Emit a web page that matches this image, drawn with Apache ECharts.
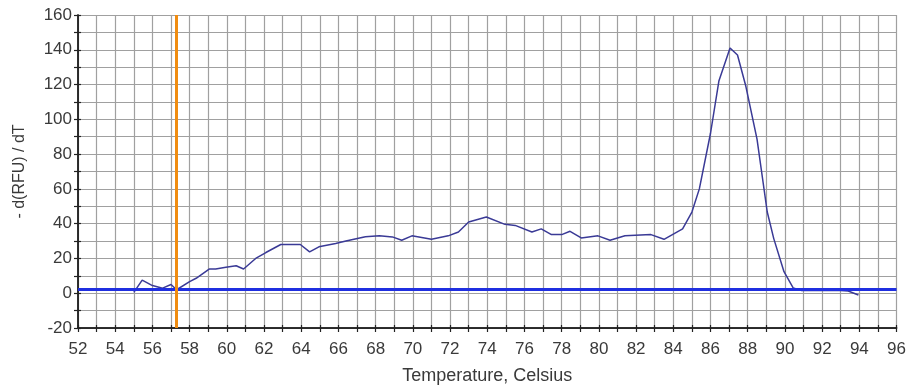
<!DOCTYPE html>
<html>
<head>
<meta charset="utf-8">
<script src="https://cdn.jsdelivr.net/npm/echarts@6/dist/echarts.min.js"></script>
<style>
html,body{margin:0;padding:0;background:#fff;}
#c{width:909px;height:390px;}
</style>
</head>
<body>
<div id="c"></div>
<script>
const temps = [55.0,55.45,56.0,56.55,57.0,57.3,58.0,58.35,59.05,59.4,59.95,60.5,60.9,61.55,62.1,62.9,63.95,64.45,64.95,65.85,66.4,67.45,68.2,68.9,69.4,69.95,71.0,71.9,72.45,73.0,73.95,74.95,75.5,76.4,76.9,77.45,78.0,78.45,79.05,79.95,80.6,81.4,82.8,83.5,84.5,85.0,85.4,86.0,86.45,87.05,87.45,87.9,88.5,89.05,89.4,89.95,90.45,90.9,92.0,93.0,93.4,93.95];
const values = [0.5,7.5,4.4,2.9,5,2,6.7,8.6,13.9,13.9,15,15.8,13.9,20,23.4,28,28,23.8,26.7,28.6,30,32.5,33,32.4,30.5,33,31,33,35.2,41,43.8,39.6,39,35.2,37,33.7,33.7,35.6,31.8,33,30.5,33,33.7,31,37,46.7,60,92,122,141,137,119,88.6,46.7,31.4,12.4,3,1.5,1.5,1.5,1.3,-1];
const thresholdY = 2;
const markerX = 57.3;

const chart = echarts.init(document.getElementById('c'), null, {renderer:'canvas'});
const font = 'Liberation Sans';
const txt = '#3a3a3a';
const baseX = {
  type:'value',min:52,max:96,interval:1,position:'bottom',
  axisLine:{onZero:false,lineStyle:{color:'#222',width:1.5}},
  splitLine:{show:false}
};
const baseY = {
  type:'value',min:-20,max:160,interval:10,position:'left',
  axisLine:{show:true,onZero:false,lineStyle:{color:'#222',width:1.5}},
  splitLine:{show:false}
};
chart.setOption({
  animation:false,
  backgroundColor:'#ffffff',
  grid:{left:78,right:9,top:15,bottom:60,containLabel:false},
  xAxis:[Object.assign({}, baseX, {
    name:'Temperature, Celsius',nameLocation:'middle',nameGap:39,
    nameTextStyle:{fontFamily:font,fontSize:18,color:txt},
    axisTick:{show:true,inside:false,length:4,lineStyle:{color:'#222',width:1.2}},
    axisLabel:{fontFamily:font,fontSize:17,color:txt,margin:13,
      formatter:v=> (Math.round(v)%2===0)? String(Math.round(v)) : ''},
    splitLine:{show:true,lineStyle:{color:'#a0a0a0',width:1.2}}
  }), Object.assign({}, baseX, {
    axisTick:{show:true,inside:true,length:3,lineStyle:{color:'#222',width:1.2}},
    axisLabel:{show:false}
  })],
  yAxis:[Object.assign({}, baseY, {
    name:'- d(RFU) / dT',nameLocation:'middle',nameGap:50,nameRotate:90,
    nameTextStyle:{fontFamily:font,fontSize:16,color:txt},
    axisTick:{show:true,length:4,lineStyle:{color:'#222',width:1.2}},
    axisLabel:{fontFamily:font,fontSize:17,color:txt,margin:6,
      formatter:v=> (Math.round(v)%20===0)? String(Math.round(v)) : ''},
    splitLine:{show:true,lineStyle:{color:'#a0a0a0',width:1.2}}
  }), Object.assign({}, baseY, {
    axisTick:{show:true,inside:true,length:3,lineStyle:{color:'#222',width:1.2}},
    axisLabel:{show:false}
  })],
  series:[{
    type:'line',
    xAxisIndex:0,yAxisIndex:0,
    data:temps.map((t,i)=>[t,values[i]]),
    showSymbol:false,
    lineStyle:{color:'#3a3a96',width:1.5},
    z:3,
    markLine:{
      silent:true,symbol:['none','none'],
      label:{show:false},
      data:[
        {yAxis:thresholdY,lineStyle:{color:'#1f2fe0',width:3,type:'solid'}},
        {xAxis:markerX,lineStyle:{color:'#f08c10',width:3,type:'solid'}}
      ]
    }
  }]
});
</script>
</body>
</html>
